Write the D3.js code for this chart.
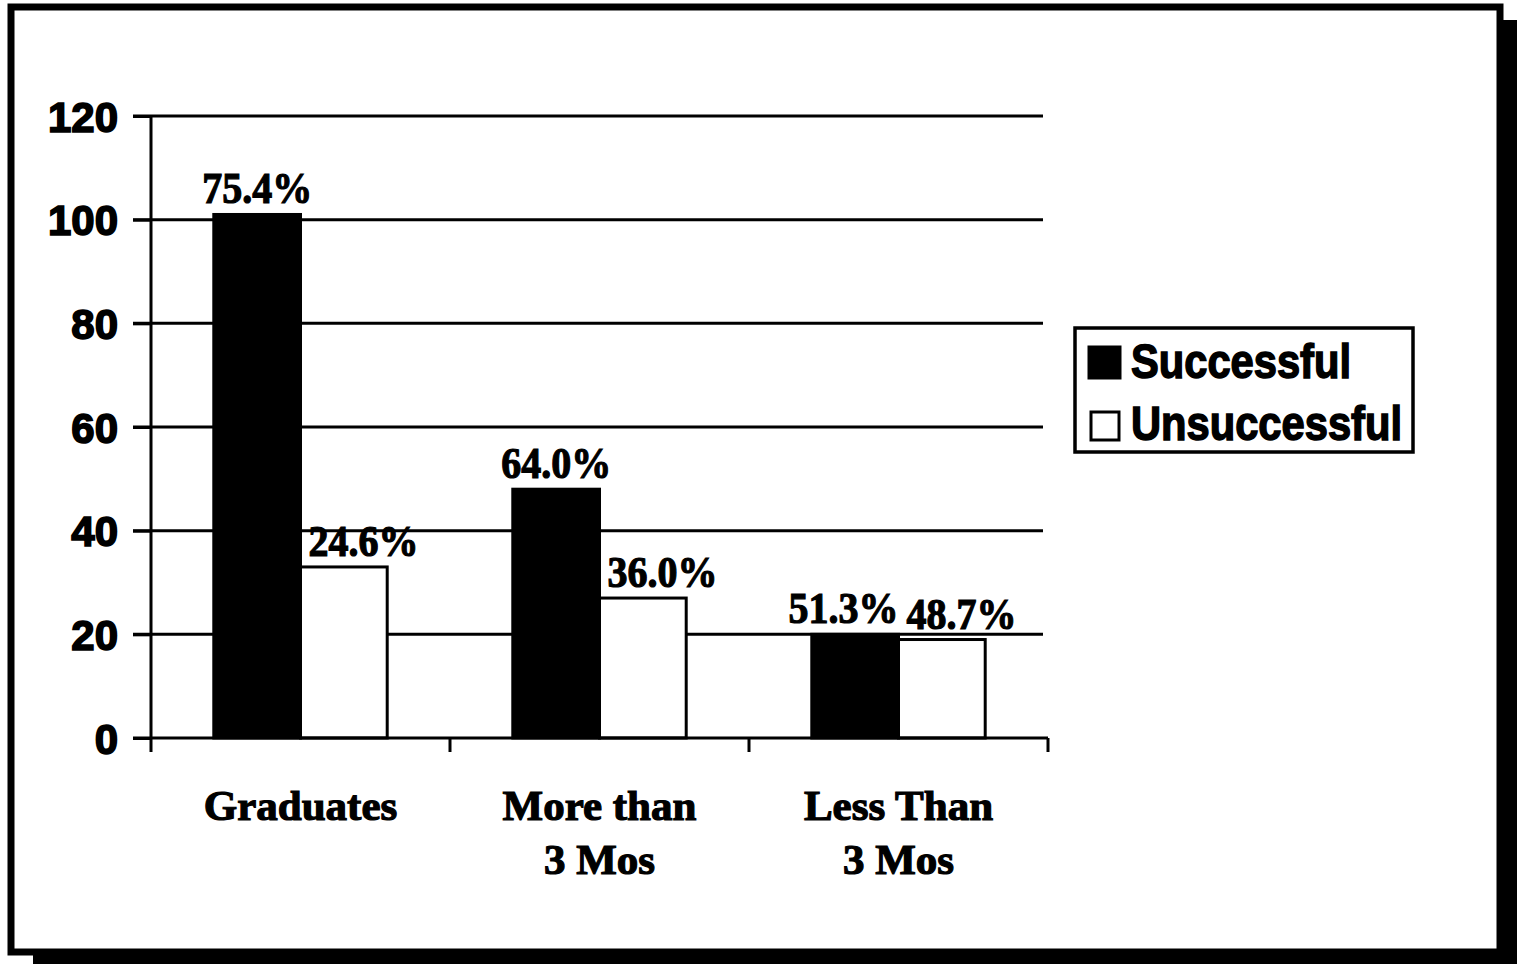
<!DOCTYPE html>
<html>
<head>
<meta charset="utf-8">
<script src="https://cdn.jsdelivr.net/npm/d3@7"></script>
<style>
  html, body { margin: 0; padding: 0; background: #fff; }
  svg { display: block; }
</style>
</head>
<body>
<svg id="chart" width="1517" height="964"></svg>
<script>
// ---- data ----
const categories = [["Graduates"], ["More than", "3 Mos"], ["Less Than", "3 Mos"]];
const categoryKeys = ["Graduates", "More than 3 Mos", "Less Than 3 Mos"];
const seriesNames = ["Successful", "Unsuccessful"];
const successful = [101, 48, 20];
const unsuccessful = [33, 27, 19];
const successfulPct = ["75.4%", "64.0%", "51.3%"];
const unsuccessfulPct = ["24.6%", "36.0%", "48.7%"];
const yTicks = [0, 20, 40, 60, 80, 100, 120];

const svg = d3.select("#chart");

// frame with drop shadow
svg.append("rect").attr("x", 1500).attr("y", 20).attr("width", 17).attr("height", 944).attr("fill", "#000");
svg.append("rect").attr("x", 33).attr("y", 950).attr("width", 1484).attr("height", 14).attr("fill", "#000");
svg.append("rect").attr("x", 11).attr("y", 7).attr("width", 1489).attr("height", 945)
  .attr("fill", "#fff").attr("stroke", "#000").attr("stroke-width", 7);

const y = d3.scaleLinear().domain([0, 120]).range([738, 116]);
const x0 = d3.scaleBand().domain(categoryKeys).range([151, 1048]).padding(0);
const bw = x0.bandwidth();
const x1 = d3.scaleBand().domain(seriesNames).range([bw * 0.21, bw * 0.79]).padding(0);
const labelW = 110;

// gridlines
const grid = svg.append("g");
grid.selectAll("line").data(yTicks.filter(d => d > 0)).join("line")
  .attr("x1", 133).attr("x2", 1043)
  .attr("y1", d => y(d)).attr("y2", d => y(d))
  .attr("stroke", "#000").attr("stroke-width", 3);

// y axis
const yAxis = d3.axisLeft(y).tickValues(yTicks).tickSize(18).tickPadding(15).tickFormat(d3.format("d"));
const gy = svg.append("g").attr("transform", "translate(151,0)").call(yAxis);
gy.select(".domain").remove();
gy.selectAll(".tick line").attr("stroke", "#000").attr("stroke-width", 3);
gy.selectAll(".tick text")
  .attr("font-family", "'Liberation Sans', Arial, sans-serif")
  .attr("font-weight", "bold").attr("font-size", 42).attr("fill", "#000")
  .attr("stroke", "#000").attr("stroke-width", 1.6)
  .attr("dy", "0.36em");

// bars
const data = categoryKeys.map((c, i) => ({
  cat: c,
  vals: [
    { s: "Successful", v: successful[i], p: successfulPct[i] },
    { s: "Unsuccessful", v: unsuccessful[i], p: unsuccessfulPct[i] }
  ]
}));

const groups = svg.append("g").selectAll("g").data(data).join("g")
  .attr("transform", d => `translate(${x0(d.cat)},0)`);

groups.selectAll("rect").data(d => d.vals).join("rect")
  .attr("x", d => x1(d.s))
  .attr("y", d => y(d.v))
  .attr("width", x1.bandwidth())
  .attr("height", d => y(0) - y(d.v))
  .attr("fill", d => d.s === "Successful" ? "#000" : "#fff")
  .attr("stroke", "#000").attr("stroke-width", 3);

// value labels: successful centred (kept clear of the neighbour), unsuccessful starting just inside the bar
groups.each(function(d) {
  const g = d3.select(this);
  const sv = d.vals[0], uv = d.vals[1];
  const bx = x1.bandwidth();
  const uStart = x1(uv.s) + 8;
  let sCenter = x1(sv.s) + bx / 2;
  if (Math.abs(y(sv.v) - y(uv.v)) < 45) sCenter = Math.min(sCenter, uStart - 8 - labelW / 2);
  const items = [
    { x: sCenter, yv: y(sv.v) - 11, anchor: "middle", t: sv.p },
    { x: uStart, yv: y(uv.v) - 11, anchor: "start", t: uv.p }
  ];
  g.selectAll("text").data(items).join("text")
    .attr("x", e => e.x).attr("y", e => e.yv)
    .attr("text-anchor", e => e.anchor)
    .attr("font-family", "'Liberation Serif', 'Times New Roman', serif")
    .attr("font-weight", "bold").attr("font-size", 45)
    .attr("textLength", labelW).attr("lengthAdjust", "spacingAndGlyphs")
    .attr("fill", "#000").attr("stroke", "#000").attr("stroke-width", 1.2)
    .text(e => e.t);
});

// x axis
svg.append("line").attr("x1", 133).attr("x2", 1048).attr("y1", y(0)).attr("y2", y(0))
  .attr("stroke", "#000").attr("stroke-width", 3);
svg.append("line").attr("x1", 151).attr("x2", 151).attr("y1", y(120)).attr("y2", 752)
  .attr("stroke", "#000").attr("stroke-width", 3);
const boundaries = categoryKeys.map(c => x0(c) + bw);
svg.append("g").selectAll("line").data(boundaries).join("line")
  .attr("x1", d => d).attr("x2", d => d).attr("y1", y(0)).attr("y2", 752)
  .attr("stroke", "#000").attr("stroke-width", 3);

// category labels
const labels = svg.append("g").selectAll("text").data(categoryKeys).join("text")
  .attr("x", d => x0(d) + bw / 2)
  .attr("y", 820)
  .attr("text-anchor", "middle")
  .attr("font-family", "'Liberation Serif', 'Times New Roman', serif")
  .attr("font-weight", "bold").attr("font-size", 43)
  .attr("fill", "#000").attr("stroke", "#000").attr("stroke-width", 1.2);
labels.each(function(d, i) {
  const t = d3.select(this);
  categories[i].forEach((line, j) => {
    t.append("tspan").attr("x", x0(d) + bw / 2).attr("dy", j === 0 ? 0 : 54).text(line);
  });
});

// legend
const lg = svg.append("g");
lg.append("rect").attr("x", 1075).attr("y", 328).attr("width", 338).attr("height", 124)
  .attr("fill", "#fff").attr("stroke", "#000").attr("stroke-width", 3.5);
const legendItems = lg.selectAll("g").data(seriesNames).join("g")
  .attr("transform", (d, i) => `translate(0,${i * 62})`);
legendItems.append("rect")
  .attr("x", d => d === "Successful" ? 1088 : 1091)
  .attr("y", d => d === "Successful" ? 346 : 350)
  .attr("width", d => d === "Successful" ? 33 : 28)
  .attr("height", d => d === "Successful" ? 33 : 28)
  .attr("fill", d => d === "Successful" ? "#000" : "#fff")
  .attr("stroke", "#000").attr("stroke-width", d => d === "Successful" ? 1 : 3);
legendItems.append("text")
  .attr("x", 1131).attr("y", 378)
  .attr("font-family", "'Liberation Sans', Arial, sans-serif")
  .attr("font-weight", "bold").attr("font-size", 48)
  .attr("textLength", d => d === "Successful" ? 220 : 271)
  .attr("lengthAdjust", "spacingAndGlyphs")
  .attr("fill", "#000").attr("stroke", "#000").attr("stroke-width", 1.5)
  .text(d => d);
</script>
</body>
</html>
